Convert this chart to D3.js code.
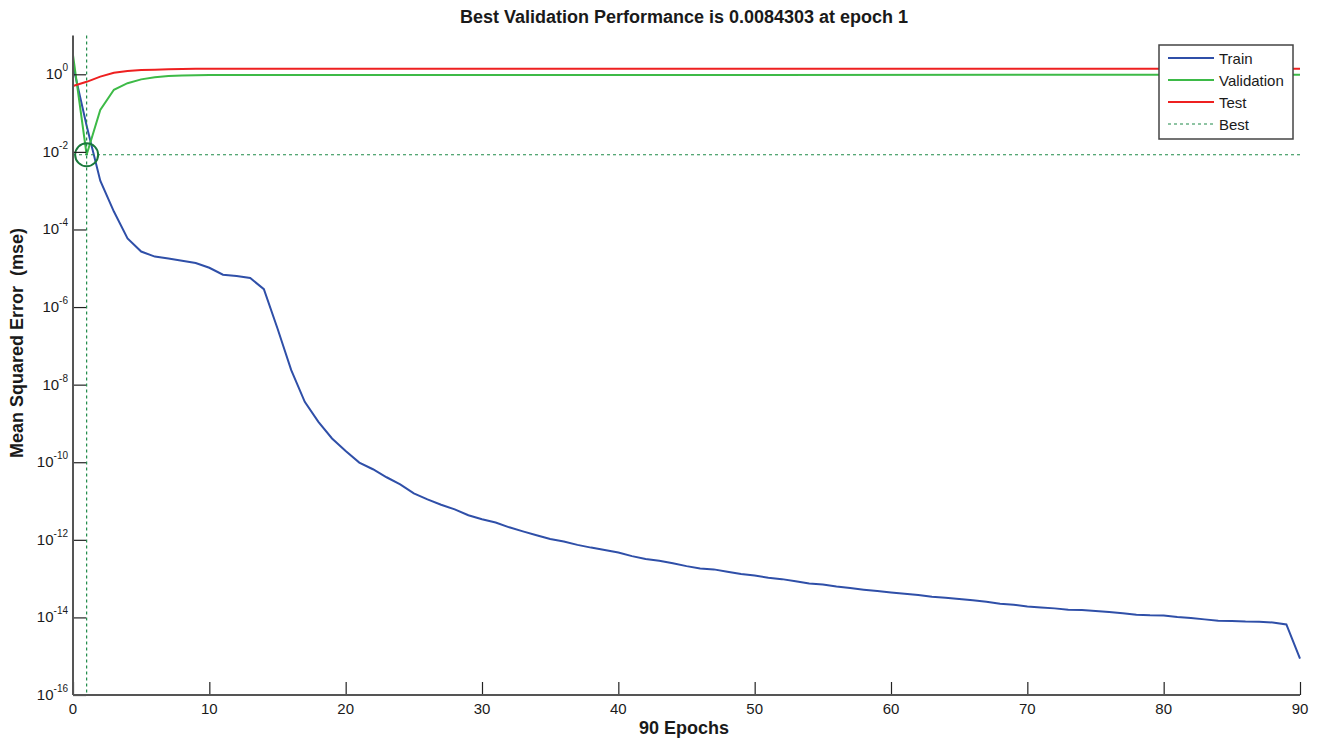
<!DOCTYPE html>
<html>
<head>
<meta charset="utf-8">
<script src="https://cdn.jsdelivr.net/npm/d3@7"></script>
<style>
  body { margin: 0; background: #fff; }
  text { font-family: "Liberation Sans", Arial, sans-serif; fill: #1a1a1a; }
</style>
</head>
<body>
<div id="chart"></div>
<script>
// training record
var trainPerf = [1.7, 0.047, 1.8e-3, 2.9e-4, 5.9e-5, 2.7e-5, 2.0e-5, 1.78e-5, 1.56e-5, 1.37e-5,
  1.03e-5, 6.8e-6, 6.3e-6, 5.6e-6, 2.9e-6, 2.8e-7, 2.4e-8, 3.6e-9, 1.1e-9, 4.1e-10,
  1.94e-10, 9.8e-11, 6.6e-11, 4.1e-11, 2.7e-11, 1.58e-11, 1.1e-11, 8.0e-12, 6.1e-12, 4.3e-12,
  3.4e-12, 2.8e-12, 2.1e-12, 1.65e-12, 1.31e-12, 1.05e-12, 9.1e-13, 7.4e-13, 6.3e-13, 5.5e-13,
  4.7e-13, 3.8e-13, 3.2e-13, 2.9e-13, 2.5e-13, 2.1e-13, 1.83e-13, 1.73e-13, 1.50e-13, 1.31e-13,
  1.21e-13, 1.05e-13, 9.7e-14, 8.6e-14, 7.5e-14, 7.1e-14, 6.3e-14, 5.7e-14, 5.2e-14, 4.8e-14,
  4.4e-14, 4.1e-14, 3.8e-14, 3.4e-14, 3.2e-14, 2.97e-14, 2.75e-14, 2.53e-14, 2.24e-14, 2.12e-14,
  1.92e-14, 1.81e-14, 1.71e-14, 1.58e-14, 1.55e-14, 1.46e-14, 1.38e-14, 1.28e-14, 1.17e-14, 1.13e-14,
  1.12e-14, 1.02e-14, 9.6e-15, 8.9e-15, 8.2e-15, 8.1e-15, 7.8e-15, 7.7e-15, 7.4e-15, 6.6e-15,
  8.7e-16];
var otherEpochs = [0, 1, 2, 3, 4, 5, 6, 7, 8, 9, 10, 90];
var valPerf = [3.1, 0.0084303, 0.12, 0.40, 0.59, 0.74, 0.84, 0.90, 0.93, 0.95, 0.96, 0.97];
var testPerf = [0.50, 0.64, 0.87, 1.10, 1.22, 1.29, 1.31, 1.35, 1.37, 1.38, 1.38, 1.39];
var bestEpoch = 1;
var bestPerf = 0.0084303;
var numEpochs = 90;
var xTicks = [0, 10, 20, 30, 40, 50, 60, 70, 80, 90];
var yExponents = [0, -2, -4, -6, -8, -10, -12, -14, -16];
var legendNames = ["Train", "Validation", "Test", "Best"];
var colors = { train: "#2f4fa8", val: "#3dba47", test: "#ee2020", best: "#1f8a48" };

var W = 1321, H = 744;
var m = { left: 73, right: 1300, top: 35.5, bottom: 695 };

var svg = d3.select("#chart").append("svg")
  .attr("width", W)
  .attr("height", H);

var x = d3.scaleLinear().domain([0, numEpochs]).range([m.left, m.right]);
var y = d3.scaleLog().domain([1e-16, 10]).range([m.bottom, m.top]);

var line = d3.line()
  .x(function(d) { return x(d[0]); })
  .y(function(d) { return y(d[1]); });

// series
var trainData = trainPerf.map(function(v, i) { return [i, v]; });
var valData = otherEpochs.map(function(e, i) { return [e, valPerf[i]]; });
var testData = otherEpochs.map(function(e, i) { return [e, testPerf[i]]; });

svg.append("path").datum(trainData)
  .attr("d", line).attr("fill", "none")
  .attr("stroke", colors.train).attr("stroke-width", 2);
svg.append("path").datum(valData)
  .attr("d", line).attr("fill", "none")
  .attr("stroke", colors.val).attr("stroke-width", 2);
svg.append("path").datum(testData)
  .attr("d", line).attr("fill", "none")
  .attr("stroke", colors.test).attr("stroke-width", 2);

// best lines + circle
svg.append("line")
  .attr("x1", x(0)).attr("x2", x(numEpochs))
  .attr("y1", y(bestPerf)).attr("y2", y(bestPerf))
  .attr("stroke", colors.best).attr("stroke-width", 1.2)
  .attr("stroke-dasharray", "3,3");
svg.append("line")
  .attr("x1", x(bestEpoch)).attr("x2", x(bestEpoch))
  .attr("y1", m.top).attr("y2", m.bottom)
  .attr("stroke", colors.best).attr("stroke-width", 1.2)
  .attr("stroke-dasharray", "3,3");
svg.append("circle")
  .attr("cx", x(bestEpoch)).attr("cy", y(bestPerf)).attr("r", 11.5)
  .attr("fill", "none").attr("stroke", "#1a7a3c").attr("stroke-width", 2);

// axes (matlab style, ticks inward)
var xAxis = svg.append("g").attr("transform", "translate(0," + m.bottom + ")")
  .call(d3.axisTop(x).tickValues(xTicks).tickSize(13).tickFormat(""));
xAxis.select(".domain").remove();
xAxis.selectAll(".tick line").attr("stroke", "#222").attr("stroke-width", 1.2);

var yAxis = svg.append("g").attr("transform", "translate(" + m.left + ",0)")
  .call(d3.axisRight(y).tickValues(yExponents.map(function(e) { return Math.pow(10, e); }))
    .tickSize(13).tickFormat(""));
yAxis.select(".domain").remove();
yAxis.selectAll(".tick line").attr("stroke", "#222").attr("stroke-width", 1.2);

svg.append("line")
  .attr("x1", m.left).attr("x2", m.right).attr("y1", m.bottom).attr("y2", m.bottom)
  .attr("stroke", "#555").attr("stroke-width", 2);
svg.append("line")
  .attr("x1", m.left).attr("x2", m.left).attr("y1", m.top).attr("y2", m.bottom)
  .attr("stroke", "#555").attr("stroke-width", 2);

// tick labels
svg.selectAll(".xlab").data(xTicks).enter().append("text")
  .attr("class", "xlab")
  .attr("x", function(d) { return x(d); })
  .attr("y", 714)
  .attr("text-anchor", "middle")
  .style("font-size", "15px")
  .text(function(d) { return d; });

var ylab = svg.selectAll(".ylab").data(yExponents).enter().append("text")
  .attr("class", "ylab")
  .attr("x", 68)
  .attr("y", function(d) { return y(Math.pow(10, d)) + 5; })
  .attr("text-anchor", "end")
  .style("font-size", "15px");
ylab.append("tspan").text("10");
ylab.append("tspan")
  .attr("dy", -8)
  .style("font-size", "10px")
  .text(function(d) { return d; });

// titles
svg.append("text")
  .attr("x", 684).attr("y", 23)
  .attr("text-anchor", "middle")
  .style("font-size", "18px").style("font-weight", "bold")
  .text("Best Validation Performance is " + bestPerf + " at epoch " + bestEpoch);
svg.append("text")
  .attr("x", 684).attr("y", 734)
  .attr("text-anchor", "middle")
  .style("font-size", "18px").style("font-weight", "bold")
  .text(numEpochs + " Epochs");
svg.append("text")
  .attr("transform", "translate(23,343) rotate(-90)")
  .attr("text-anchor", "middle")
  .style("font-size", "18px").style("font-weight", "bold")
  .style("white-space", "pre")
  .text("Mean Squared Error  (mse)");

// legend
var lg = svg.append("g").attr("transform", "translate(1159,45)");
lg.append("rect")
  .attr("width", 134).attr("height", 94)
  .attr("fill", "#fff").attr("stroke", "#444").attr("stroke-width", 1.5);
var legendColors = [colors.train, colors.val, colors.test, colors.best];
var item = lg.selectAll(".item").data(legendNames).enter().append("g")
  .attr("class", "item")
  .attr("transform", function(d, i) { return "translate(0," + (13 + i * 22) + ")"; });
item.append("line")
  .attr("x1", 9).attr("x2", 55)
  .attr("stroke", function(d, i) { return legendColors[i]; })
  .attr("stroke-width", function(d, i) { return i == 3 ? 1.2 : 2; })
  .attr("stroke-dasharray", function(d, i) { return i == 3 ? "3,3" : null; });
item.append("text")
  .attr("x", 60).attr("y", 5.5)
  .style("font-size", "15px")
  .text(function(d) { return d; });
</script>
</body>
</html>
